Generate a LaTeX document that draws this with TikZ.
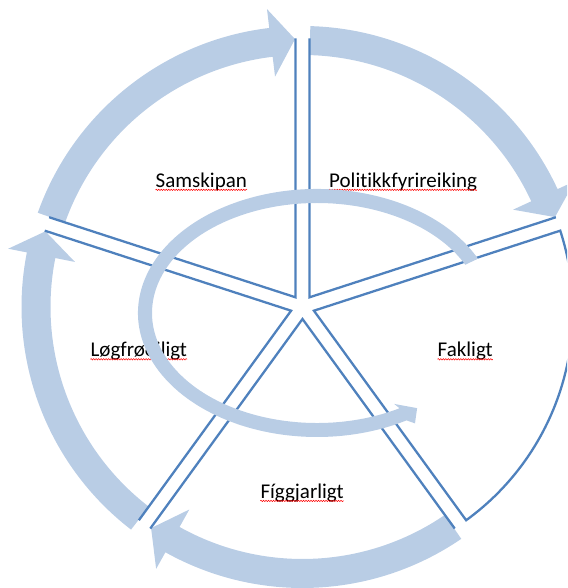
\documentclass[tikz,border=0pt]{standalone}
\usepackage{fontspec}
\setmainfont[Ligatures=NoCommon]{Carlito}
\usetikzlibrary{calc,decorations.pathmorphing}
\definecolor{edgeblue}{HTML}{4F81BD}
\definecolor{arrowblue}{HTML}{B9CDE5}
\begin{document}
\begin{tikzpicture}[x=1pt,y=1pt,
  sectorline/.style={draw=edgeblue,line width=2.3pt,line join=miter},
  label/.style={inner sep=0pt,anchor=base west,font=\fontsize{21}{24}\selectfont},
  squig/.style={draw=red,line width=0.5pt,decorate,decoration={snake,amplitude=0.7pt,segment length=2.5pt}}]
\useasboundingbox (0,0) rectangle (567,588);
\clip (0,0) rectangle (567,588);
\coordinate (C) at (302.5,281);
\coordinate (S) at (317,275);

% outer curved arrows (clockwise)
\foreach \aT/\aB/\aP in {160.4/96.8/91.6, 88.4/24.8/19.6, 304.4/240.8/235.6, 232.4/168.8/163.6} {
  \fill[arrowblue,shift={(C)}] (\aT:252) arc[start angle=\aT,end angle=\aB,radius=252]
    -- (\aB:232) -- (\aP:268) -- (\aB:300) -- (\aB:281)
    arc[start angle=\aB,end angle=\aT,radius=281] -- cycle;
}

% sector tips
\foreach \ph/\nm in {54/P,126/Sa,198/L,270/F,342/K} {
  \coordinate (T\nm) at ($(C)+(\ph:12)$);
}
% sector edges
\foreach \ph/\nm in {54/P,126/Sa,198/L,270/F} {
  \draw[sectorline] ($(T\nm)+(\ph+36:259)$) -- (T\nm) -- ($(T\nm)+(\ph-36:259)$);
}
\draw[sectorline] ($(TK)+(18:259)$) -- (TK) -- ($(TK)+(-54:259)$)
  arc[start angle=-54,end angle=18,radius=259] -- cycle;

% labels
\node[label] (sam) at (155.5,400.7) {Samskipan};
\node[label] (pol) at (329,400.7) {Politikkfyrireiking};
\node[label] (log) at (90.4,231.3) {Løgfrøðiligt};
\node[label] (fak) at (437.5,231.3) {Fakligt};
\node[label] (fig) at (260.3,89.7) {Fíggjarligt};
\foreach \w in {sam,pol,log,fak,fig} {
  \draw[squig] ([yshift=-2.6pt]\w.base west) -- ([yshift=-2.6pt]\w.base east);
}

% inner circular arrow
\fill[arrowblue,shift={(S)}] (26:179 and 124)
  arc[start angle=26,end angle=300,x radius=179,y radius=124]
  -- (301.6:187 and 129.6) -- (305.6:172 and 117) -- (299.5:156.8 and 104.5)
  -- (300:165 and 110)
  arc[start angle=300,end angle=26,x radius=165,y radius=110] -- cycle;
\end{tikzpicture}
\end{document}
